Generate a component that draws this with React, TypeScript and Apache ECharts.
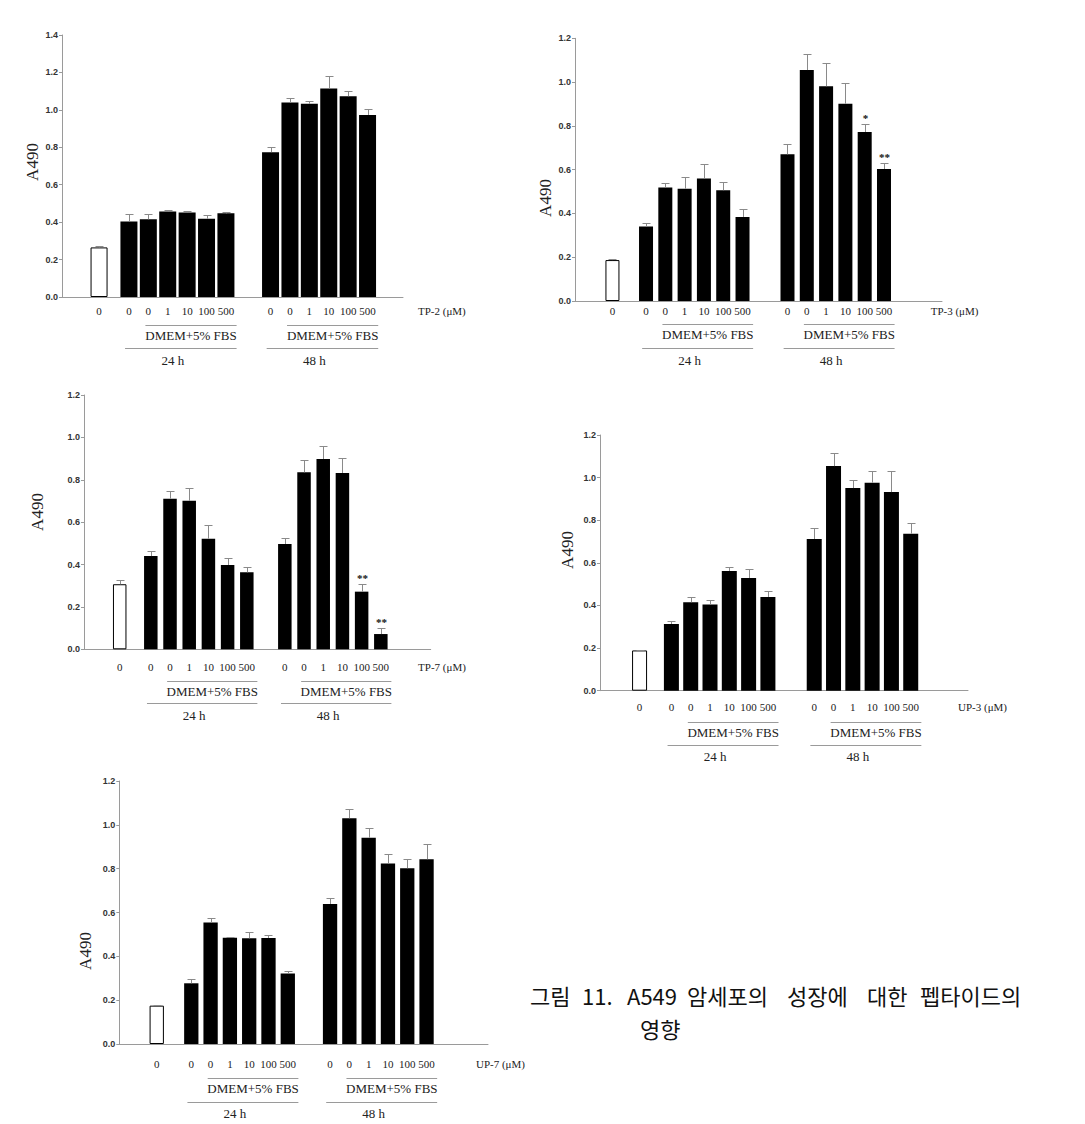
import React, { useEffect, useRef } from "react";
import * as echarts from "echarts";

// ---------- DATA ----------
const doseLabels = ["0", "0", "1", "10", "100", "500"];
const controlLabel = "0";
const mediumLabel = "DMEM+5% FBS";
const time24Label = "24 h";
const time48Label = "48 h";
const unitLabels = ["TP-2 (μM)", "TP-3 (μM)", "TP-7 (μM)", "UP-3 (μM)", "UP-7 (μM)"];
const yAxisTitle = "A490";
const yMaxes = [1.4, 1.2, 1.2, 1.2, 1.2];

// TP-2
const tp2Control = [0.265, 0.009];
const tp2_24h = [0.404, 0.415, 0.457, 0.452, 0.418, 0.447];
const tp2_24hErr = [0.039, 0.028, 0.006, 0.006, 0.018, 0.007];
const tp2_48h = [0.774, 1.039, 1.032, 1.114, 1.073, 0.973];
const tp2_48hErr = [0.028, 0.025, 0.014, 0.069, 0.03, 0.03];
const tp2Stars = ["", "", "", "", "", ""];

// TP-3
const tp3Control = [0.187, 0.003];
const tp3_24h = [0.34, 0.519, 0.513, 0.56, 0.506, 0.384];
const tp3_24hErr = [0.016, 0.018, 0.052, 0.067, 0.037, 0.038];
const tp3_48h = [0.67, 1.055, 0.981, 0.901, 0.772, 0.603];
const tp3_48hErr = [0.047, 0.072, 0.105, 0.093, 0.035, 0.029];
const tp3Stars = ["", "", "", "", "*", "**"];

// TP-7
const tp7Control = [0.307, 0.02];
const tp7_24h = [0.44, 0.711, 0.701, 0.522, 0.398, 0.363];
const tp7_24hErr = [0.026, 0.036, 0.058, 0.066, 0.031, 0.027];
const tp7_48h = [0.497, 0.835, 0.898, 0.832, 0.272, 0.072];
const tp7_48hErr = [0.027, 0.058, 0.061, 0.072, 0.038, 0.03];
const tp7Stars = ["", "", "", "", "**", "**"];

// UP-3
const up3Control = [0.189, 0.003];
const up3_24h = [0.313, 0.415, 0.405, 0.562, 0.529, 0.44];
const up3_24hErr = [0.016, 0.025, 0.02, 0.02, 0.04, 0.028];
const up3_48h = [0.712, 1.054, 0.951, 0.976, 0.932, 0.737];
const up3_48hErr = [0.05, 0.061, 0.038, 0.053, 0.097, 0.051];
const up3Stars = ["", "", "", "", "", ""];

// UP-7
const up7Control = [0.175, 0.003];
const up7_24h = [0.277, 0.554, 0.485, 0.482, 0.484, 0.322];
const up7_24hErr = [0.02, 0.022, 0.005, 0.031, 0.015, 0.011];
const up7_48h = [0.639, 1.03, 0.941, 0.824, 0.802, 0.843];
const up7_48hErr = [0.026, 0.042, 0.046, 0.043, 0.044, 0.07];
const up7Stars = ["", "", "", "", "", ""];

const captionLine1 = ["그림", "11.", "A549", "암세포의", "성장에", "대한", "펩타이드의"];
const captionLine2 = ["영향"];

// ---------- LAYOUT (positions / sizes only) ----------
const layouts = [
  { left: 62, top: 35, width: 341, height: 262, pitch: 19.4, ctrl: 1.91, s24: 3.45, s48: 10.75, barW: 17, unitX: 18.35, dy: [14, 28, 38, 51, 63], title: [32.5, 162] },
  { left: 575, top: 38.3, width: 367, height: 262.7, pitch: 19.3, ctrl: 1.94, s24: 3.68, s48: 11.01, barW: 14, unitX: 18.43, dy: [10, 23, 33, 47, 59], title: [545, 198] },
  { left: 84, top: 395, width: 346.7, height: 254.3, pitch: 19.2, ctrl: 1.86, s24: 3.48, s48: 10.46, barW: 13.5, unitX: 17.4, dy: [17.4, 32, 42.4, 54, 66.4], title: [37, 512] },
  { left: 600, top: 435, width: 368, height: 255.7, pitch: 19.3, ctrl: 2.05, s24: 3.7, s48: 11.1, barW: 15, unitX: 18.55, dy: [16.6, 31.6, 41.3, 54.3, 65.3], title: [567, 550] },
  { left: 119.3, top: 781, width: 368.7, height: 263, pitch: 19.3, ctrl: 1.94, s24: 3.73, s48: 10.92, barW: 14.3, unitX: 18.48, dy: [20.3, 34, 44, 57.7, 69], title: [85, 951] },
];
const captionX1 = [530, 582, 627, 687, 787, 867, 920];
const captionX2 = [640];

const SERIF = '"Liberation Serif", "Times New Roman", serif';
const SANS = '"Liberation Sans", Arial, sans-serif';
const CJK = '"Noto Sans CJK KR", sans-serif';
const AXIS = "#9a9a9a";
const ERR = "#8a8a8a";

const panels = [
  { c: tp2Control, v24: tp2_24h, e24: tp2_24hErr, v48: tp2_48h, e48: tp2_48hErr, stars: tp2Stars },
  { c: tp3Control, v24: tp3_24h, e24: tp3_24hErr, v48: tp3_48h, e48: tp3_48hErr, stars: tp3Stars },
  { c: tp7Control, v24: tp7_24h, e24: tp7_24hErr, v48: tp7_48h, e48: tp7_48hErr, stars: tp7Stars },
  { c: up3Control, v24: up3_24h, e24: up3_24hErr, v48: up3_48h, e48: up3_48hErr, stars: up3Stars },
  { c: up7Control, v24: up7_24h, e24: up7_24hErr, v48: up7_48h, e48: up7_48hErr, stars: up7Stars },
];

function buildOption() {
  const grid: any[] = [];
  const xAxis: any[] = [];
  const yAxis: any[] = [];
  const series: any[] = [];
  const graphic: any[] = [];

  panels.forEach((p, i) => {
    const L = layouts[i];
    grid.push({ left: L.left, top: L.top, width: L.width, height: L.height, containLabel: false });
    xAxis.push({
      type: "value", gridIndex: i, min: 0, max: L.width / L.pitch,
      axisLine: { show: true, onZero: true, lineStyle: { color: AXIS, width: 1 } },
      axisTick: { show: false }, axisLabel: { show: false }, splitLine: { show: false },
    });
    yAxis.push({
      type: "value", gridIndex: i, min: 0, max: yMaxes[i], interval: 0.2,
      axisLine: { show: true, lineStyle: { color: AXIS, width: 1 } },
      axisTick: { show: true, inside: false, length: 3, lineStyle: { color: AXIS } },
      axisLabel: { show: true, fontSize: 9, fontWeight: "bold", fontFamily: SANS, color: "#333", margin: 4, formatter: (v: number) => v.toFixed(1) },
      splitLine: { show: false },
    });

    const xs: number[] = [L.ctrl];
    const ys: number[] = [p.c[0]];
    const es: number[] = [p.c[1]];
    const stars: string[] = [""];
    const labels: string[] = [controlLabel];
    p.v24.forEach((v, k) => { xs.push(L.s24 + k); ys.push(v); es.push(p.e24[k]); stars.push(""); labels.push(doseLabels[k]); });
    p.v48.forEach((v, k) => { xs.push(L.s48 + k); ys.push(v); es.push(p.e48[k]); stars.push(p.stars[k]); labels.push(doseLabels[k]); });

    series.push({
      type: "bar", xAxisIndex: i, yAxisIndex: i, barWidth: L.barW,
      data: xs.map((x, k) => k === 0
        ? { value: [x, ys[k]], itemStyle: { color: "#ffffff", borderColor: "#000", borderWidth: 1 } }
        : { value: [x, ys[k]], itemStyle: { color: "#000000" } }),
      silent: true,
    });

    series.push({
      type: "custom", xAxisIndex: i, yAxisIndex: i, z: 5, silent: true,
      data: xs.map((x, k) => [x, ys[k], es[k]]),
      renderItem: (params: any, api: any) => {
        const x = api.value(0), y = api.value(1), e = api.value(2);
        const base = api.coord([x, y]);
        const top = api.coord([x, y + e]);
        const cx = Math.round(base[0]) + 0.5;
        const ty = Math.round(top[1]) + 0.5;
        const children: any[] = [
          { type: "line", shape: { x1: cx, y1: base[1], x2: cx, y2: ty }, style: { stroke: ERR, lineWidth: 1 } },
          { type: "line", shape: { x1: cx - 4, y1: ty, x2: cx + 4, y2: ty }, style: { stroke: ERR, lineWidth: 1 } },
        ];
        const s = stars[params.dataIndex];
        if (s) {
          children.push({ type: "text", x: cx, y: ty - 1, style: { text: s, fill: "#111", fontSize: 11, fontWeight: "bold", fontFamily: SERIF, align: "center", verticalAlign: "bottom" } });
        }
        return { type: "group", children };
      },
    });

    series.push({
      type: "custom", xAxisIndex: i, yAxisIndex: i, silent: true,
      data: xs.map((x) => [x, 0]),
      renderItem: (params: any, api: any) => {
        const pt = api.coord([api.value(0), 0]);
        return { type: "text", x: pt[0], y: pt[1] + L.dy[0], style: { text: labels[params.dataIndex], fill: "#222", fontSize: 11, fontFamily: SERIF, align: "center", verticalAlign: "middle" } };
      },
    });

    series.push({
      type: "custom", xAxisIndex: i, yAxisIndex: i, silent: true,
      data: [[0, 0]],
      renderItem: (_params: any, api: any) => {
        const y0 = api.coord([0, 0])[1];
        const px = (x: number) => api.coord([x, 0])[0];
        const children: any[] = [];
        [[L.s24, time24Label], [L.s48, time48Label]].forEach(([s, tl]: any) => {
          const a1 = px(s + 1 - 0.15), b = px(s + 5 + 0.55), a2 = px(s - 0.2);
          const l1 = Math.round(y0 + L.dy[1]) + 0.5, l2 = Math.round(y0 + L.dy[3]) + 0.5;
          children.push({ type: "line", shape: { x1: a1, y1: l1, x2: b, y2: l1 }, style: { stroke: AXIS, lineWidth: 1 } });
          children.push({ type: "text", x: (a1 + b) / 2, y: y0 + L.dy[2], style: { text: mediumLabel, fill: "#222", fontSize: 13, fontFamily: SERIF, align: "center", verticalAlign: "middle" } });
          children.push({ type: "line", shape: { x1: a2, y1: l2, x2: b, y2: l2 }, style: { stroke: AXIS, lineWidth: 1 } });
          children.push({ type: "text", x: (a2 + b) / 2 - 8, y: y0 + L.dy[4], style: { text: tl, fill: "#222", fontSize: 13, fontFamily: SERIF, align: "center", verticalAlign: "middle" } });
        });
        children.push({ type: "text", x: px(L.unitX), y: y0 + L.dy[0], style: { text: unitLabels[i], fill: "#222", fontSize: 11, fontFamily: SERIF, align: "left", verticalAlign: "middle" } });
        return { type: "group", children };
      },
    });

    graphic.push({
      type: "text", x: L.title[0], y: L.title[1], rotation: Math.PI / 2,
      style: { text: yAxisTitle, fill: "#222", fontSize: 17, fontFamily: SERIF, align: "center", verticalAlign: "middle" },
    });
  });

  captionLine1.forEach((w, k) => {
    graphic.push({ type: "text", x: captionX1[k], y: 995, style: { text: w, fill: "#111", fontSize: 22, fontFamily: CJK, align: "left", verticalAlign: "middle" } });
  });
  captionLine2.forEach((w, k) => {
    graphic.push({ type: "text", x: captionX2[k], y: 1028, style: { text: w, fill: "#111", fontSize: 22, fontFamily: CJK, align: "left", verticalAlign: "middle" } });
  });

  return { animation: false, backgroundColor: "#ffffff", grid, xAxis, yAxis, series, graphic };
}

export default function App() {
  const ref = useRef<HTMLDivElement>(null);
  useEffect(() => {
    if (!ref.current) return;
    const chart = echarts.init(ref.current, undefined, { renderer: "svg" });
    chart.setOption(buildOption() as any);
    return () => chart.dispose();
  }, []);
  return <div ref={ref} style={{ position: "absolute", left: 0, top: 0, width: 1085, height: 1124 }} />;
}
